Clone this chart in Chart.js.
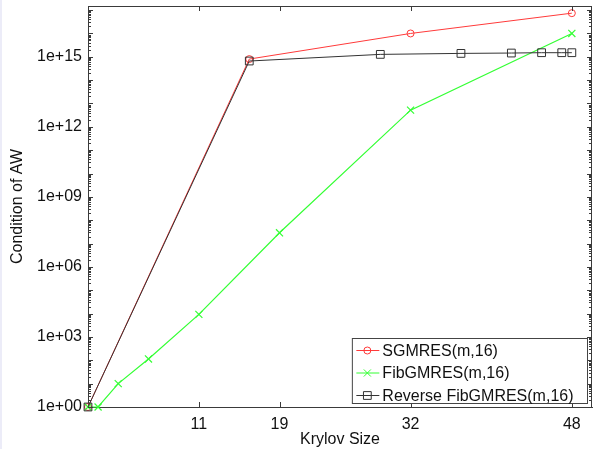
<!DOCTYPE html>
<html>
<head>
<meta charset="utf-8">
<script src="https://cdn.jsdelivr.net/npm/chart.js@4/dist/chart.umd.min.js"></script>
<style>
  html, body { margin: 0; padding: 0; background: #fff; }
  #wrap { position: relative; width: 593px; height: 449px; }
  #edge { position: absolute; left: 0; top: 0; width: 2px; height: 449px; background: #ececf8; }
</style>
</head>
<body>
<div id="wrap">
  <canvas id="chart" width="593" height="449"></canvas>
  <div id="edge"></div>
</div>
<script>
// Krylov sizes for each method
const sgmresSizes = [0, 16, 32, 48]
const fibSizes = [0, 1, 3, 6, 11, 19, 32, 48]
const reverseSizes = [0, 16, 29, 37, 42, 45, 47, 48]

// condition numbers of AW
const sgmresCond = [1, 8e14, 1e16, 7.4e16]
const fibCond = [1, 1, 10, 114, 9300, 2.9e7, 5.2e12, 1e16]
const reverseCond = [1, 6.6e14, 1.27e15, 1.4e15, 1.45e15, 1.5e15, 1.5e15, 1.5e15]

const xTicks = [11, 19, 32, 48]
const yTicks = [1e0, 1e3, 1e6, 1e9, 1e12, 1e15]

const seriesNames = ['SGMRES(m,16)', 'FibGMRES(m,16)', 'Reverse FibGMRES(m,16)']

const FONT = 'Liberation Sans, Arial, Helvetica, sans-serif'
const AXIS = '#3a3a3a'

function pairs(xs, ys) {
    return xs.map((x, i) => ({ x: x, y: ys[i] }))
}

function fmtExp(v) {
    const e = Math.round(Math.log10(v))
    return '1e+' + (e < 10 ? '0' + e : e)
}

// inward tick marks on all four sides, plus the top/right frame
const frameTicks = {
    id: 'frameTicks',
    afterDatasetsDraw(chart) {
        const ctx = chart.ctx
        const a = chart.chartArea
        const xs = chart.scales.x
        const ys = chart.scales.y
        ctx.save()
        ctx.strokeStyle = AXIS
        ctx.lineWidth = 1
        ctx.beginPath()
        ctx.moveTo(a.left, a.top + 0.5)
        ctx.lineTo(a.right, a.top + 0.5)
        ctx.moveTo(a.right - 0.5, a.top)
        ctx.lineTo(a.right - 0.5, a.bottom)
        xTicks.forEach(t => {
            const px = Math.round(xs.getPixelForValue(t)) + 0.5
            ctx.moveTo(px, a.bottom)
            ctx.lineTo(px, a.bottom - 5)
            ctx.moveTo(px, a.top)
            ctx.lineTo(px, a.top + 5)
        })
        for (let k = 0; k <= 17; k++) {
            for (let m = 1; m <= 9; m++) {
                const v = m * Math.pow(10, k)
                if (v < ys.min || v > ys.max) continue
                const py = Math.round(ys.getPixelForValue(v)) + 0.5
                const len = m === 1 ? 5 : 3
                ctx.moveTo(a.left, py)
                ctx.lineTo(a.left + len, py)
                ctx.moveTo(a.right, py)
                ctx.lineTo(a.right - len, py)
            }
        }
        ctx.stroke()
        ctx.restore()
    }
}

// boxed legend in the lower right, line sample with the marker on it
const boxLegend = {
    id: 'boxLegend',
    afterDraw(chart) {
        const ctx = chart.ctx
        const a = chart.chartArea
        ctx.save()
        ctx.font = '16px ' + FONT
        let maxW = 0
        seriesNames.forEach(n => { maxW = Math.max(maxW, ctx.measureText(n).width) })
        const w = 30 + maxW + 14
        const h = 65
        const right = a.right - 4.5
        const bottom = a.bottom - 3.5
        const left = right - w
        const top = bottom - h
        ctx.fillStyle = '#fff'
        ctx.fillRect(left, top, w, h)
        ctx.strokeStyle = '#444'
        ctx.lineWidth = 1
        ctx.strokeRect(left, top, w, h)
        chart.data.datasets.forEach((ds, i) => {
            const y = top + 12 + i * 22.5
            ctx.strokeStyle = ds.borderColor
            ctx.lineWidth = 1
            ctx.beginPath()
            ctx.moveTo(left + 4, y)
            ctx.lineTo(left + 27, y)
            ctx.stroke()
            ctx.fillStyle = 'rgba(0,0,0,0)'
            Chart.helpers.drawPoint(ctx, {
                pointStyle: ds.pointStyle,
                radius: ds.pointRadius,
                borderWidth: 1
            }, left + 15, y)
            ctx.fillStyle = '#111'
            ctx.textBaseline = 'middle'
            ctx.textAlign = 'left'
            ctx.fillText(seriesNames[i], left + 30, y + 1)
        })
        ctx.restore()
    }
}

const ctx = document.getElementById('chart')

const myChart = new Chart(ctx, {
    type: 'line',
    data: {
        datasets: [
            {
                label: seriesNames[0],
                data: pairs(sgmresSizes, sgmresCond),
                borderColor: '#ff3a3a',
                backgroundColor: 'transparent',
                pointBorderColor: '#ff3a3a',
                pointBackgroundColor: 'transparent',
                pointStyle: 'circle',
                pointRadius: 3.5,
                borderWidth: 1,
                order: 2
            },
            {
                label: seriesNames[1],
                data: pairs(fibSizes, fibCond),
                borderColor: '#33ff33',
                backgroundColor: 'transparent',
                pointBorderColor: '#33ff33',
                pointBackgroundColor: 'transparent',
                pointStyle: 'crossRot',
                pointRadius: 5,
                borderWidth: 1.2,
                order: 1
            },
            {
                label: seriesNames[2],
                data: pairs(reverseSizes, reverseCond),
                borderColor: '#333333',
                backgroundColor: 'transparent',
                pointBorderColor: '#333333',
                pointBackgroundColor: 'transparent',
                pointStyle: 'rect',
                pointRadius: 5.5,
                borderWidth: 1,
                order: 0
            }
        ]
    },
    options: {
        animation: false,
        responsive: false,
        events: [],
        layout: { autoPadding: false, padding: { top: 6, right: 1, left: 0, bottom: 0 } },
        elements: { line: { tension: 0 }, point: { borderWidth: 1, hoverRadius: 0 } },
        datasets: { line: { clip: false } },
        plugins: { legend: { display: false }, tooltip: { enabled: false } },
        scales: {
            x: {
                type: 'linear',
                min: 0,
                max: 50,
                afterFit: s => { s.height = 42; s.paddingLeft = 0; s.paddingRight = 0 },
                afterBuildTicks: s => { s.ticks = xTicks.map(v => ({ value: v })) },
                grid: { drawOnChartArea: false, drawTicks: false },
                border: { display: true, color: AXIS, width: 1 },
                ticks: {
                    padding: 8,
                    maxRotation: 0,
                    autoSkip: false,
                    color: '#111',
                    font: { family: FONT, size: 16 }
                },
                title: {
                    display: true,
                    text: 'Krylov Size',
                    color: '#111',
                    padding: { top: 0, bottom: 0 },
                    font: { family: FONT, size: 16 }
                }
            },
            y: {
                type: 'logarithmic',
                min: 1,
                max: 1.5e17,
                afterFit: s => { s.width = 88; s.paddingTop = 0; s.paddingBottom = 0 },
                afterBuildTicks: s => { s.ticks = yTicks.map(v => ({ value: v })) },
                grid: { drawOnChartArea: false, drawTicks: false },
                border: { display: true, color: AXIS, width: 1 },
                ticks: {
                    padding: 6,
                    autoSkip: false,
                    color: '#111',
                    font: { family: FONT, size: 16 },
                    callback: v => fmtExp(v)
                },
                title: {
                    display: true,
                    text: 'Condition of AW',
                    color: '#111',
                    padding: { top: 8, bottom: 0 },
                    font: { family: FONT, size: 16 }
                }
            }
        }
    },
    plugins: [frameTicks, boxLegend]
})
</script>
</body>
</html>
